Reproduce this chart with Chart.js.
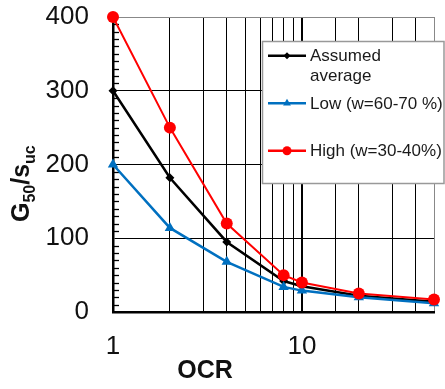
<!DOCTYPE html>
<html>
<head>
<meta charset="utf-8">
<script src="https://cdn.jsdelivr.net/npm/chart.js@4.4.1/dist/chart.umd.min.js"></script>
<style>
html,body{margin:0;padding:0;background:#fff;}
#wrap{width:445px;height:389px;position:relative;}
</style>
</head>
<body>
<div id="wrap"><canvas id="c" width="445" height="389"></canvas></div>
<script>
// ---- data ----
const ocr = [1, 2, 4, 8, 10, 20, 50];
const avgValues = [300, 182, 95, 42, 35, 22, 14];
const lowValues = [200, 114, 68, 34, 29, 20, 12];
const highValues = [400, 250, 120, 50, 40, 25, 17];
const seriesNames = ['Assumed\naverage', 'Low (w=60-70 %)', 'High (w=30-40%)'];
const xLabelValues = [1, 10];
const yMin = 0, yMax = 400, yStep = 100, yMinorStep = 10;
const xMin = 1, xMax = 50;

const FONT = "'Liberation Sans', Arial, sans-serif";
const toPts = v => ocr.map((x, i) => ({x: x, y: v[i]}));

const datasets = [
  {label: seriesNames[0], data: toPts(avgValues), borderColor: '#000', backgroundColor: '#000',
   borderWidth: 2.5, pointStyle: 'rectRot', pointRadius: 4.5, order: 2},
  {label: seriesNames[1], data: toPts(lowValues), borderColor: '#0070C0', backgroundColor: '#0070C0',
   borderWidth: 2.5, pointStyle: 'triangle', pointRadius: 6, order: 1},
  {label: seriesNames[2], data: toPts(highValues), borderColor: '#FF0000', backgroundColor: '#FF0000',
   borderWidth: 2, pointStyle: 'circle', pointRadius: 6, order: 0}
];
datasets.forEach(d => { d.tension = 0; d.clip = false; d.pointBorderWidth = 0; d.pointHoverRadius = d.pointRadius; });

const extras = {
  id: 'extras',
  beforeDatasetsDraw(chart) {
    const ctx = chart.ctx, y = chart.scales.y, a = chart.chartArea;
    ctx.save();
    ctx.strokeStyle = '#000';
    ctx.lineWidth = 1.3;
    for (let v = yMin + yMinorStep; v < yMax; v += yMinorStep) {
      if (v % yStep === 0) continue;
      const py = Math.round(y.getPixelForValue(v)) + 0.5;
      ctx.beginPath(); ctx.moveTo(a.left, py); ctx.lineTo(a.left + 6, py); ctx.stroke();
    }
    ctx.restore();
  },
  afterDraw(chart) {
    const ctx = chart.ctx;
    ctx.save();
    ctx.fillStyle = '#111';
    ctx.font = 'bold 25px ' + FONT;
    ctx.textAlign = 'center';
    ctx.textBaseline = 'middle';
    ctx.fillText('OCR', 205, 371);
    ctx.translate(29, 222);
    ctx.rotate(-Math.PI / 2);
    ctx.textAlign = 'left';
    ctx.textBaseline = 'alphabetic';
    const parts = [['G', 25, 0], ['50', 16, 6], ['/s', 25, 0], ['uc', 16, 6]];
    let xx = 0;
    parts.forEach(p => {
      ctx.font = 'bold ' + p[1] + 'px ' + FONT;
      ctx.fillText(p[0], xx, p[2]);
      xx += ctx.measureText(p[0]).width;
    });
    ctx.restore();

    ctx.save();
    ctx.fillStyle = '#fff';
    ctx.strokeStyle = '#999';
    ctx.lineWidth = 1.5;
    ctx.fillRect(262, 41, 182, 142);
    ctx.strokeRect(262.5, 41.5, 181.5, 142);
    const rows = [55.7, 103.3, 150.7];
    const legendRadius = [3.5, 4.5, 4.5];
    chart.data.datasets.forEach((ds, i) => {
      const yy = rows[i];
      ctx.strokeStyle = ds.borderColor;
      ctx.lineWidth = 2.5;
      ctx.beginPath(); ctx.moveTo(268, yy); ctx.lineTo(306, yy); ctx.stroke();
      ctx.fillStyle = ds.backgroundColor;
      Chart.helpers.drawPoint(ctx, {pointStyle: ds.pointStyle, radius: legendRadius[i], rotation: 0, borderWidth: 0}, 287, yy);
      ctx.fillStyle = '#1a1a1a';
      ctx.font = '17px ' + FONT;
      ctx.textAlign = 'left';
      ctx.textBaseline = 'middle';
      const lines = ds.label.split('\n');
      lines.forEach((t, k) => ctx.fillText(t, 310, yy + 1 + k * 19.5));
    });
    ctx.restore();
  }
};

new Chart(document.getElementById('c'), {
  type: 'line',
  data: {datasets: datasets},
  options: {
    responsive: false,
    devicePixelRatio: 1,
    animation: false,
    events: [],
    layout: {padding: {left: 0, top: 17, right: 11, bottom: 0}, autoPadding: false},
    plugins: {legend: {display: false}, tooltip: {enabled: false}, title: {display: false}},
    scales: {
      x: {
        type: 'logarithmic', min: xMin, max: xMax,
        afterFit: s => { s.height = 77; s.paddingLeft = 0; s.paddingRight = 0; s.paddingTop = 0; s.paddingBottom = 0; },
        border: {display: true, color: '#000', width: 2.5},
        grid: {
          drawTicks: false,
          color: c => (c.tick && c.tick.value === xMax) ? '#888' : '#000',
          lineWidth: c => (c.tick && c.tick.value === 10) ? 2 : 1
        },
        ticks: {
          autoSkip: false, maxRotation: 0, padding: 19,
          color: '#111', font: {family: FONT, size: 26},
          callback: v => xLabelValues.includes(v) ? String(v) : ''
        }
      },
      y: {
        min: yMin, max: yMax,
        afterFit: s => { s.width = 113; s.paddingTop = 0; s.paddingBottom = 0; s.paddingLeft = 0; s.paddingRight = 0; },
        border: {display: true, color: '#000', width: 2.5},
        grid: {
          drawTicks: false,
          color: c => (c.tick && c.tick.value === yMax) ? '#888' : '#000',
          lineWidth: 1
        },
        ticks: {
          stepSize: yStep, padding: 24,
          color: '#111', font: {family: FONT, size: 26}
        }
      }
    }
  },
  plugins: [extras]
});
</script>
</body>
</html>
